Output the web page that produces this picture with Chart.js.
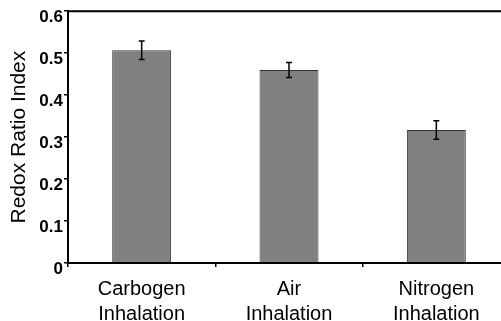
<!DOCTYPE html>
<html>
<head>
<meta charset="utf-8">
<script src="https://cdn.jsdelivr.net/npm/chart.js@4"></script>
<style>
  html, body { margin: 0; padding: 0; background: #fff; overflow: hidden; }
  #wrap { width: 512px; height: 321px; position: relative; }
</style>
</head>
<body>
<div id="wrap"><canvas id="redoxChart"></canvas></div>
<script>
const categories = [['Carbogen', 'Inhalation'], ['Air', 'Inhalation'], ['Nitrogen', 'Inhalation']];
const redoxValues = [0.507, 0.460, 0.317];
const redoxErrors = [0.022, 0.018, 0.022];
const yTicks = [0, 0.1, 0.2, 0.3, 0.4, 0.5, 0.6];

// error bars, drawn from the y scale
const errorBars = {
    id: 'errorBars',
    afterDatasetsDraw(chart) {
        const ctx = chart.ctx;
        const y = chart.scales.y;
        const meta = chart.getDatasetMeta(0);
        ctx.save();
        ctx.strokeStyle = '#000';
        ctx.lineWidth = 1.5;
        meta.data.forEach((bar, i) => {
            const top = y.getPixelForValue(redoxValues[i] + redoxErrors[i]);
            const bot = y.getPixelForValue(redoxValues[i] - redoxErrors[i]);
            ctx.beginPath();
            ctx.moveTo(bar.x, top);
            ctx.lineTo(bar.x, bot);
            ctx.moveTo(bar.x - 3, top);
            ctx.lineTo(bar.x + 3, top);
            ctx.moveTo(bar.x - 3, bot);
            ctx.lineTo(bar.x + 3, bot);
            ctx.stroke();
        });
        ctx.restore();
    }
};

// top line of the plot frame
const topFrame = {
    id: 'topFrame',
    afterDraw(chart) {
        const a = chart.chartArea;
        const ctx = chart.ctx;
        ctx.save();
        ctx.strokeStyle = '#000';
        ctx.lineWidth = 2;
        ctx.beginPath();
        ctx.moveTo(a.left - 1, a.top);
        ctx.lineTo(a.right, a.top);
        ctx.stroke();
        ctx.restore();
    }
};

const ctx = document.getElementById('redoxChart').getContext('2d');
new Chart(ctx, {
    type: 'bar',
    data: {
        labels: categories,
        datasets: [{
            data: redoxValues,
            backgroundColor: '#808080',
            borderColor: '#333',
            borderWidth: 1,
            barPercentage: 0.4,
            categoryPercentage: 1.0
        }]
    },
    options: {
        responsive: true,
        maintainAspectRatio: false,
        animation: false,
        layout: { padding: { top: 10, right: 2, left: 0, bottom: 0 } },
        plugins: { legend: { display: false }, tooltip: { enabled: false } },
        scales: {
            x: {
                afterFit: s => { s.height = 58; },
                grid: { display: true, drawOnChartArea: false, drawTicks: true, tickLength: 4, color: '#000', lineWidth: 1.5 },
                border: { display: true, color: '#000', width: 2 },
                ticks: {
                    color: '#000',
                    padding: 10,
                    maxRotation: 0,
                    font: { family: 'Liberation Sans, Arial, sans-serif', size: 20, lineHeight: 1.25 }
                }
            },
            y: {
                min: 0,
                max: 0.6,
                afterFit: s => { s.width = 68; },
                afterBuildTicks: s => { s.ticks = yTicks.map(v => ({ value: v })); },
                grid: { display: true, drawOnChartArea: false, drawTicks: true, tickLength: 4, color: '#000', lineWidth: 1.5 },
                border: { display: true, color: '#000', width: 2 },
                ticks: {
                    color: '#000',
                    padding: 1,
                    labelOffset: 6,
                    callback: v => String(Math.round(v * 10) / 10),
                    font: { family: 'Liberation Sans, Arial, sans-serif', size: 17, weight: 'bold' }
                },
                title: {
                    display: true,
                    text: 'Redox Ratio Index',
                    color: '#000',
                    padding: { top: 7, bottom: 0 },
                    font: { family: 'Liberation Sans, Arial, sans-serif', size: 21 }
                }
            }
        }
    },
    plugins: [errorBars, topFrame]
});
</script>
</body>
</html>
